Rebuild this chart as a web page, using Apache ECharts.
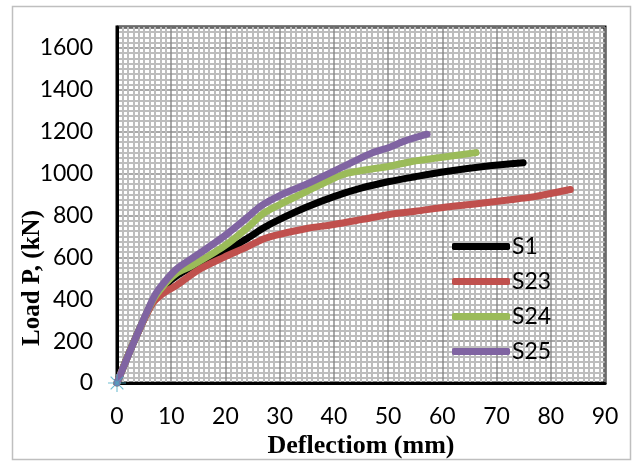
<!DOCTYPE html>
<html>
<head>
<meta charset="utf-8">
<script src="https://cdn.jsdelivr.net/npm/echarts@6/dist/echarts.min.js"></script>
<style>
html,body{margin:0;padding:0;background:#fff;}
#chart{width:638px;height:462px;}
</style>
</head>
<body>
<div id="chart"></div>
<script>
var xTicks = [0, 10, 20, 30, 40, 50, 60, 70, 80, 90];
var yTicks = [0, 200, 400, 600, 800, 1000, 1200, 1400, 1600];

var s1 = [[0,0],[3,190],[6.5,385],[8.5,455],[10.9,510],[15,570],[19.7,624],[24,690],[27,740],[30,781],[35,840],[40,890],[45,930],[50.2,962],[55,985],[60.7,1010],[68,1035],[74.9,1052]];
var s23 = [[0,0],[3,190],[6.5,378],[8.5,428],[10.9,465],[15,540],[19.7,600],[24,650],[27,688],[30,710],[35,738],[40,757],[45,780],[50.2,805],[55,820],[60.7,840],[66,855],[72.9,876],[77,890],[80,905],[83.6,924]];
var s24 = [[0,0],[3,190],[6.5,390],[8.5,462],[10.9,522],[13.8,560],[19.7,652],[24,740],[27,810],[30,852],[35,915],[40,978],[42.2,1000],[46,1018],[50.2,1035],[54.4,1058],[60,1078],[66.2,1100]];
var s25 = [[0,0],[3.1,195],[6.5,395],[7.7,448],[10.9,543],[15,615],[19.7,700],[24,790],[26.5,845],[30,895],[35,950],[40,1012],[44,1062],[47,1098],[50.2,1125],[53,1155],[57.2,1188]];
var originMark = [[0,0]];

var seriesNames = ['S1','S23','S24','S25'];
var seriesData = [s1, s23, s24, s25];
var colors = ['#000000','#C0504D','#9BBB59','#8064A2'];

var chart = echarts.init(document.getElementById('chart'));

var series = seriesData.map(function(d, i){
  return {
    name: seriesNames[i],
    type: 'line',
    data: d,
    smooth: 0.3,
    showSymbol: false,
    symbol: 'none',
    lineStyle: {color: colors[i], width: 7, cap: 'round', join: 'round'},
    itemStyle: {color: colors[i]},
    z: 3 + i
  };
});
series.push({
  name: 'origin',
  type: 'scatter',
  data: originMark,
  clip: false,
  symbol: 'path://M-0.6,-10 L0.6,-10 L0.6,10 L-0.6,10 Z M-10,-0.6 L10,-0.6 L10,0.6 L-10,0.6 Z M-7.5,-6.6 L-6.6,-7.5 L7.5,6.6 L6.6,7.5 Z M6.6,-7.5 L7.5,-6.6 L-6.6,7.5 L-7.5,6.6 Z',
  symbolSize: 18,
  itemStyle: {color: '#4BACC6'},
  z: 10,
  silent: true
});

chart.setOption({
  animation: false,
  backgroundColor: '#ffffff',
  graphic: [
    {type: 'rect', left: 10, top: 4, shape: {width: 618, height: 453}, style: {fill: 'none', stroke: '#bfbfbf', lineWidth: 1.5}, z: -10},
    {type: 'text', x: 33, y: 278, rotation: Math.PI/2, style: {text: 'Load P, (kN)', font: 'bold 25px "Liberation Serif"', fill: '#000', textAlign: 'center', textVerticalAlign: 'middle'}}
  ],
  grid: {left: 117, top: 27, right: 33, bottom: 79, show: true, borderColor: '#000', borderWidth: 3, backgroundColor: '#fff', outerBoundsMode: 'none', containLabel: false},
  legend: {
    data: seriesNames,
    orient: 'vertical',
    left: 447, top: 230,
    itemWidth: 58, itemHeight: 7,
    itemGap: 12,
    icon: 'roundRect',
    textStyle: {fontFamily: 'Lato', fontSize: 23, color: '#000', padding: [0,0,0,-3]},
    backgroundColor: 'transparent'
  },
  xAxis: {
    type: 'value', min: 0, max: 90, interval: 10,
    name: 'Deflectiom (mm)', nameLocation: 'middle', nameGap: 47,
    nameTextStyle: {fontFamily: 'Liberation Serif', fontWeight: 'bold', fontSize: 26, color: '#000'},
    axisLine: {show: true, lineStyle: {color: '#000', width: 3}},
    axisTick: {show: false},
    axisLabel: {fontFamily: 'Lato', fontSize: 23, color: '#000', margin: 22,
      formatter: function(v){ return xTicks.indexOf(v) >= 0 ? String(v) : ''; }},
    splitLine: {show: true, lineStyle: {color: '#8c8c8c', width: 1.5}},
    minorTick: {show: false, splitNumber: 10},
    minorSplitLine: {show: true, lineStyle: {color: '#bdbdbd', width: 2}}
  },
  yAxis: {
    type: 'value', min: 0, max: 1700, interval: 200,
    axisLine: {show: true, lineStyle: {color: '#000', width: 3}},
    axisTick: {show: false},
    axisLabel: {fontFamily: 'Lato', fontSize: 23, color: '#000', margin: 24,
      formatter: function(v){ return yTicks.indexOf(v) >= 0 ? String(v) : ''; }},
    splitLine: {show: true, lineStyle: {color: '#8c8c8c', width: 1.5}},
    minorTick: {show: false, splitNumber: 8},
    minorSplitLine: {show: true, lineStyle: {color: '#bdbdbd', width: 2}}
  },
  series: series
});
</script>
</body>
</html>
